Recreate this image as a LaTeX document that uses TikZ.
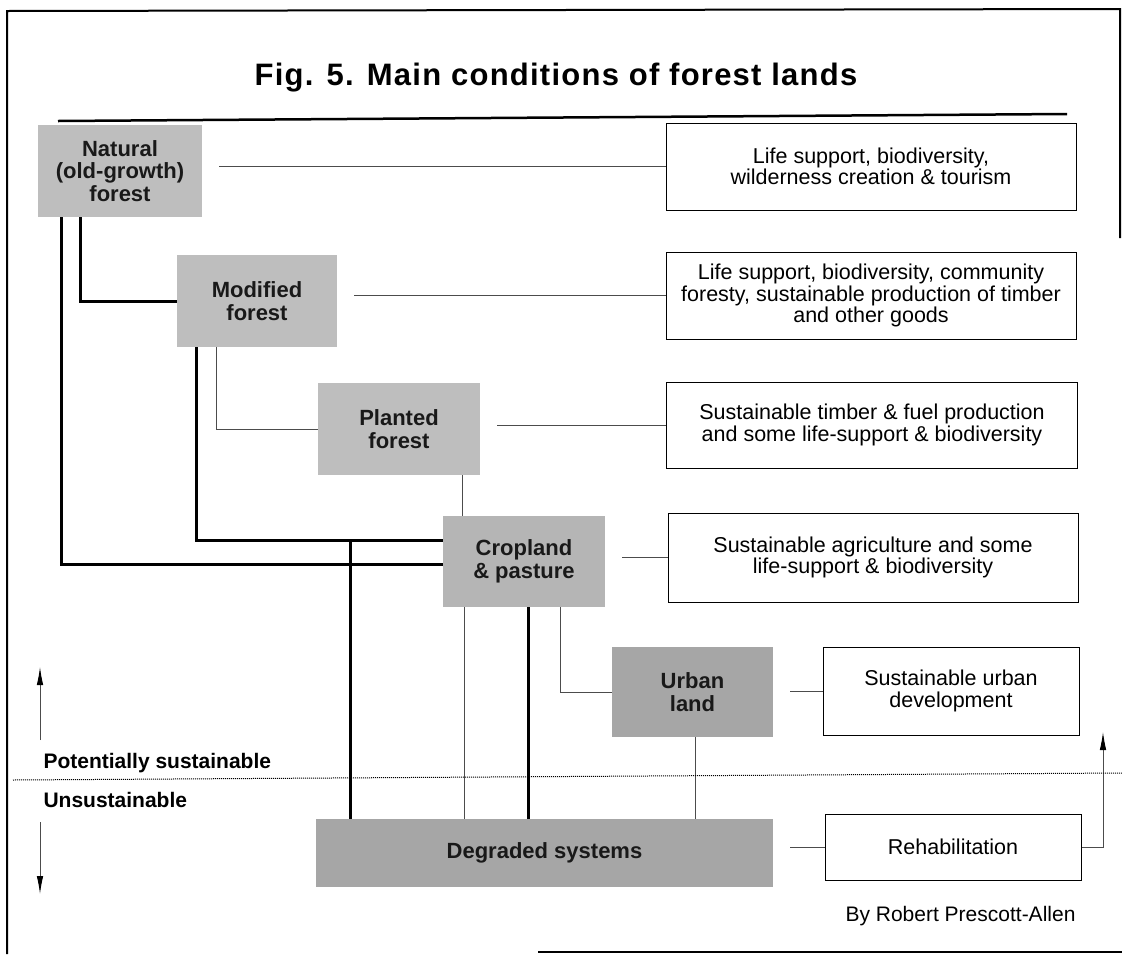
\documentclass[tikz,border=0pt]{standalone}
\usepackage{fontspec}
\setmainfont{Liberation Sans}
\newfontfamily\titlefont{Liberation Sans}[LetterSpace=4]
\usetikzlibrary{arrows.meta}
\definecolor{lightgrey}{RGB}{190,190,190}
\definecolor{midgrey}{RGB}{181,181,181}
\definecolor{darkgrey}{RGB}{166,166,166}
\tikzset{
  cond/.style={fill=lightgrey, inner sep=0pt, align=center, text=black!90,
    font=\bfseries\fontsize{22}{22.5}\selectfont},
  use/.style={draw, line width=1pt, inner sep=0pt, align=center,
    font=\fontsize{21.5}{21.5}\selectfont},
  thickline/.style={line width=3pt},
  fine/.style={line width=0.9pt, draw=black!70},
  tie/.style={fine, shorten <=17pt},
  tip/.style={-{Latex[length=18pt,width=6.5pt,color=black]}},
}

\begin{document}
\begin{tikzpicture}[x=1pt,y=-1pt]
\useasboundingbox (0,0) rectangle (1122,954);
\draw[line width=2pt] (1120,238) -- (1120,9) -- (7,11) -- (7,954);
\draw[line width=2pt] (538,952) -- (1122,952);
\node[anchor=base, font=\titlefont\bfseries\fontsize{31}{33}\selectfont] (title) at (556,85) {Fig. 5. Main conditions of forest lands};
\draw[line width=2.5pt] (58,121) -- (1067,114);

\node[cond, minimum width=164, minimum height=92] (c1) at (120,171) {Natural\\(old-growth)\\forest};
\node[cond, minimum width=160, minimum height=92] (c2) at (257,301) {Modified\\forest};
\node[cond, minimum width=162, minimum height=92] (c3) at (399,429) {Planted\\forest};
\node[cond, fill=midgrey, minimum width=162, minimum height=91] (c4) at (524,561.5) {Cropland\\\& pasture};
\node[cond, fill=darkgrey, minimum width=161, minimum height=90] (c5) at (692.5,692) {Urban\\land};
\node[cond, fill=darkgrey, minimum width=457, minimum height=68] (c6) at (544.5,853) {Degraded systems};

\node[use, minimum width=410, minimum height=87] (u1) at (871,166.5) {Life support, biodiversity,\\wilderness creation \& tourism};
\node[use, minimum width=410, minimum height=87] (u2) at (871,295.5) {Life support, biodiversity, community\\foresty, sustainable production of timber\\and other goods};
\node[use, minimum width=411, minimum height=86] (u3) at (872,425) {Sustainable timber \& fuel production\\and some life-support \& biodiversity};
\node[use, minimum width=410, minimum height=89] (u4) at (873,557.5) {Sustainable agriculture and some\\life-support \& biodiversity};
\node[use, minimum width=256, minimum height=88] (u5) at (951,691) {Sustainable urban\\development};
\node[use, minimum width=256, minimum height=66] (u6) at (953,847) {Rehabilitation};

\draw[tie] (c1.east |- u1.west) -- (u1.west);
\draw[tie] (c2.east |- u2.west) -- (u2.west);
\draw[tie] (c3.east |- u3.west) -- (u3.west);
\draw[tie] (c4.east |- u4.west) -- (u4.west);
\draw[tie] (c5.east |- u5.west) -- (u5.west);
\draw[tie] (c6.east |- u6.west) -- (u6.west);

\coordinate (j1) at (350,540);
\draw[thickline] ([xshift=-40]c1.south) |- (c2.west);
\draw[thickline] ([xshift=-59]c1.south) |- ([yshift=-2.5]c4.west);
\draw[thickline] ([xshift=-61]c2.south) |- ([yshift=21.5]c4.west);
\draw[thickline] (j1) -- (j1 |- c6.north);
\draw[fine] ([xshift=-41]c2.south) |- (c3.west);
\draw[fine] ([xshift=63]c3.south) -- ([xshift=-62]c4.north);
\draw[fine] ([xshift=-60]c4.south) -- ([xshift=-60]c4.south |- c6.north);
\draw[thickline] ([xshift=4]c4.south) -- ([xshift=4]c4.south |- c6.north);
\draw[fine] ([xshift=36]c4.south) |- (c5.west);
\draw[fine] ([xshift=2.5]c5.south) -- ([xshift=2.5]c5.south |- c6.north);

\coordinate (back) at (1103,732);
\draw[fine, tip] (u6.east) -| (back);

\draw[densely dotted, line width=1pt] (13,780) -- (1122,773);
\node[anchor=base west, font=\bfseries\fontsize{21}{22}\selectfont] (pot) at (40,768) {Potentially sustainable};
\node[anchor=base west, font=\bfseries\fontsize{21}{22}\selectfont] (uns) at (40,807) {Unsustainable};
\coordinate (up0) at (40,740);
\coordinate (up1) at (40,667);
\coordinate (dn0) at (40,822);
\coordinate (dn1) at (40,894);
\draw[fine, tip] (up0) -- (up1);
\draw[fine, tip] (dn0) -- (dn1);

\node[anchor=base west, font=\fontsize{21}{22}\selectfont] (by) at (842,921) {By Robert Prescott-Allen};
\end{tikzpicture}
\end{document}
